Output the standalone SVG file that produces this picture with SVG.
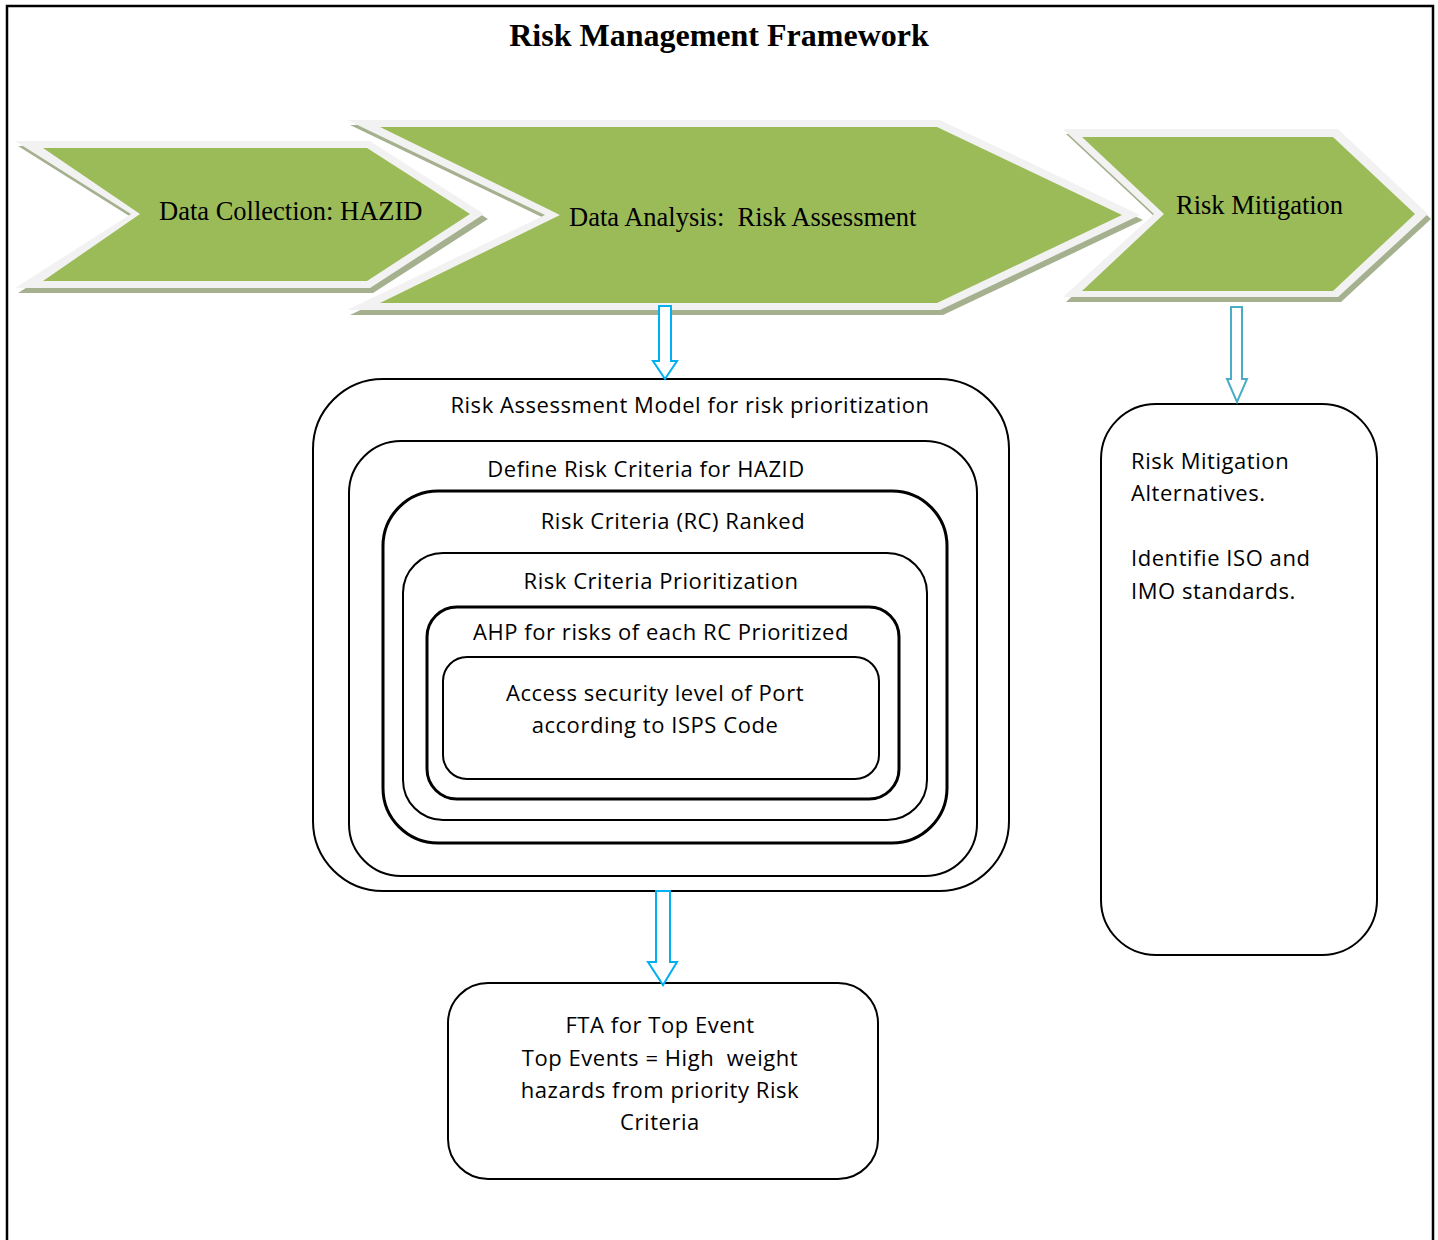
<svg xmlns="http://www.w3.org/2000/svg" width="1438" height="1240" viewBox="0 0 1438 1240">
  <style>
    .title { font-family: "Liberation Serif", "Times New Roman", serif; font-weight: bold; font-size: 32px; fill: #000; }
    .chev-label { font-family: "Liberation Serif", "Times New Roman", serif; font-size: 26.5px; fill: #000; }
    .label { font-family: "Open Sans", "Noto Sans", sans-serif; font-size: 22px; letter-spacing: 0.55px; fill: #000; }
    .shadow { fill: #a5b08f; }
    .rim { fill: #f2f2f2; }
    .body { fill: #9bbb59; }
    .box { fill: none; stroke: #000; stroke-width: 2; }
    .box-thick { fill: none; stroke: #000; stroke-width: 3; }
    .flow { fill: #fff; stroke: #00b0f0; stroke-width: 2; }
    .flow-teal { fill: #fff; stroke: #4bacc6; stroke-width: 2; }
  </style>

  <!-- page frame -->
  <rect x="7" y="6" width="1426" height="1260" fill="#fff" stroke="#000" stroke-width="2.5"/>

  <text class="title" x="719" y="46" text-anchor="middle">Risk Management Framework</text>

  <!-- process chevrons -->
  <g id="chevron-data-collection">
    <polygon class="shadow" points="18,146 373,146 488,219 373,293 18,293 134,219"/>
    <polygon class="rim" points="15,141 370,141 484,214 370,288 15,288 131,214"/>
    <polygon class="body" points="43,148 367,148 470,214 367,281 43,281 140,214"/>
    <text class="chev-label" x="159" y="220">Data Collection: HAZID</text>
  </g>

  <g id="chevron-data-analysis">
    <polygon class="shadow" points="350,125 943,125 1143,220 943,315 350,315 548,220"/>
    <polygon class="rim" points="347,120 940,120 1140,215 940,310 347,310 545,215"/>
    <polygon class="body" points="380,127 937,127 1122,215 937,303 380,303 560,215"/>
    <text class="chev-label" x="569" y="226">Data Analysis:&#160; Risk Assessment</text>
  </g>

  <g id="chevron-risk-mitigation">
    <polygon class="shadow" points="1066,134 1341,134 1431,219 1341,302 1066,302 1157,219"/>
    <polygon class="rim" points="1063,129 1338,129 1428,214 1338,297 1063,297 1154,214"/>
    <polygon class="body" points="1082,137 1333,137 1415,214 1333,291 1082,291 1164,214"/>
    <text class="chev-label" x="1176" y="214">Risk Mitigation</text>
  </g>

  <!-- nested assessment model -->
  <g id="risk-assessment-model">
    <rect class="box" x="313" y="379" width="696" height="512" rx="70" ry="70"/>
    <text class="label" x="690" y="413" text-anchor="middle">Risk Assessment Model for risk prioritization</text>
  </g>
  <g id="define-risk-criteria">
    <rect class="box" x="349" y="441" width="628" height="435" rx="52" ry="52"/>
    <text class="label" x="646" y="477" text-anchor="middle">Define Risk Criteria for HAZID</text>
  </g>
  <g id="rc-ranked">
    <rect class="box-thick" x="383" y="491" width="564" height="352" rx="55" ry="55"/>
    <text class="label" x="673" y="529" text-anchor="middle">Risk Criteria (RC) Ranked</text>
  </g>
  <g id="rc-prioritization">
    <rect class="box" x="403" y="553" width="524" height="267" rx="40" ry="40"/>
    <text class="label" x="661" y="589" text-anchor="middle">Risk Criteria Prioritization</text>
  </g>
  <g id="ahp">
    <rect class="box-thick" x="427" y="607" width="472" height="192" rx="30" ry="30"/>
    <text class="label" x="661" y="640" text-anchor="middle">AHP for risks of each RC Prioritized</text>
  </g>
  <g id="security-level">
    <rect class="box" x="443" y="657" width="436" height="122" rx="24" ry="24"/>
    <text class="label" x="655" y="701" text-anchor="middle">Access security level of Port</text>
    <text class="label" x="655" y="733" text-anchor="middle">according to ISPS Code</text>
  </g>

  <g id="mitigation-alternatives">
    <rect class="box" x="1101" y="404" width="276" height="551" rx="55" ry="55"/>
    <text class="label" x="1131" y="469">Risk Mitigation</text>
    <text class="label" x="1131" y="501">Alternatives.</text>
    <text class="label" x="1131" y="566">Identifie ISO and</text>
    <text class="label" x="1131" y="599">IMO standards.</text>
  </g>

  <g id="fta">
    <rect class="box" x="448" y="983" width="430" height="196" rx="40" ry="40"/>
    <text class="label" x="660" y="1033" text-anchor="middle">FTA for Top Event</text>
    <text class="label" x="660" y="1066" text-anchor="middle">Top Events = High&#160; weight</text>
    <text class="label" x="660" y="1098" text-anchor="middle">hazards from priority Risk</text>
    <text class="label" x="660" y="1130" text-anchor="middle">Criteria</text>
  </g>

  <!-- block arrows between stages -->
  <g id="connectors">
    <polygon class="flow" points="659,306 671,306 671,361 677,361 665,379 653,361 659,361"/>
    <polygon class="flow-teal" points="1231,307 1242,307 1242,379 1247,379 1237,402 1227,379 1231,379"/>
    <polygon class="flow" points="656,891 670,891 670,962 677,962 663,985 648,962 656,962"/>
  </g>
</svg>
